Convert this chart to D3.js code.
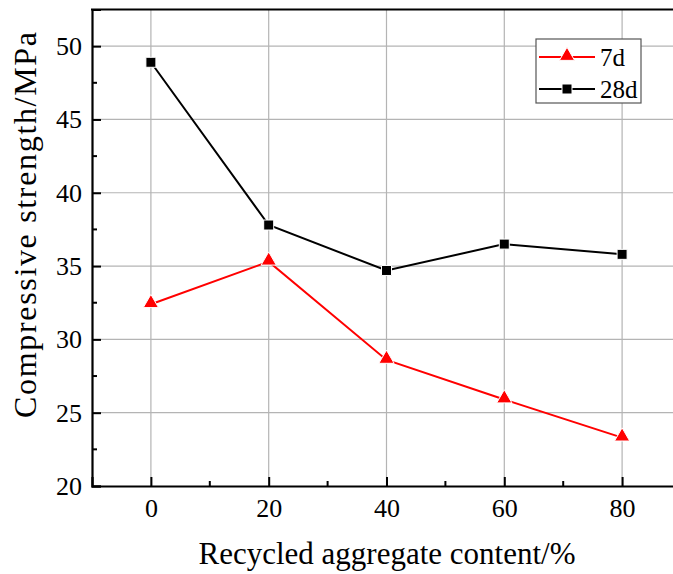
<!DOCTYPE html>
<html>
<head>
<meta charset="utf-8">
<script src="https://cdn.jsdelivr.net/npm/d3@7"></script>
<style>
  html, body { margin: 0; padding: 0; background: #fff; }
  svg { display: block; }
  text { font-family: "Liberation Serif", "Times New Roman", serif; }
</style>
</head>
<body>
<svg id="chart" width="673" height="574"></svg>
<script>
const categories = [0, 20, 40, 60, 80];
const series7d = [32.4, 35.3, 28.6, 25.9, 23.3];
const series28d = [48.9, 37.8, 34.7, 36.5, 35.8];
const yTicks = [20, 25, 30, 35, 40, 45, 50];
const xTicks = [0, 20, 40, 60, 80];
const seriesNames = ["7d", "28d"];

const FONT = '"Liberation Serif", "Times New Roman", serif';
const svg = d3.select("#chart");
const pLeft = 92, pRight = 681, pTop = 9.5, pBottom = 486;

const x = d3.scaleLinear().domain([-10, 90]).range([pLeft, pRight]);
const y = d3.scaleLinear().domain([20, 52.5]).range([pBottom, pTop]);

svg.append("defs").append("clipPath").attr("id", "clip")
  .append("rect").attr("x", pLeft).attr("y", pTop).attr("width", pRight - pLeft).attr("height", pBottom - pTop);

// grid
const grid = svg.append("g").attr("clip-path", "url(#clip)");
grid.selectAll(".hg").data(yTicks.filter(d => d > 20)).enter().append("line")
  .attr("x1", pLeft).attr("x2", pRight).attr("y1", d => y(d)).attr("y2", d => y(d))
  .attr("stroke", "#b4b4b4").attr("stroke-width", 1.2);
grid.selectAll(".vg").data(xTicks).enter().append("line")
  .attr("y1", pTop).attr("y2", pBottom).attr("x1", d => x(d)).attr("x2", d => x(d))
  .attr("stroke", "#b4b4b4").attr("stroke-width", 1.2);

// axes (inward ticks)
const yMinor = d3.range(22.5, 52.5, 5);
const xMinor = [10, 30, 50, 70];
const yAxis = d3.axisLeft(y).tickValues(yTicks).tickSize(-9).tickPadding(10).tickFormat(d3.format("d"));
const gy = svg.append("g").attr("transform", `translate(${pLeft},0)`).call(yAxis);
gy.selectAll("line").attr("stroke-width", 2);
gy.append("g").selectAll("line").data(yMinor).enter().append("line")
  .attr("x1", 0).attr("x2", 5).attr("y1", d => y(d)).attr("y2", d => y(d))
  .attr("stroke", "#000").attr("stroke-width", 2);

const xAxis = d3.axisBottom(x).tickValues(xTicks).tickSize(-9).tickPadding(13).tickFormat(d3.format("d"));
const gx = svg.append("g").attr("transform", `translate(0,${pBottom})`).call(xAxis);
gx.selectAll("line").attr("stroke-width", 2);
gx.append("g").selectAll("line").data(xMinor).enter().append("line")
  .attr("y1", 0).attr("y2", -5).attr("x1", d => x(d)).attr("x2", d => x(d))
  .attr("stroke", "#000").attr("stroke-width", 2);

[gx, gy].forEach(g => {
  g.attr("font-family", FONT);
  g.select(".domain").attr("stroke-width", 2.2);
  g.selectAll("text").attr("font-size", 26).attr("fill", "#000").style("font-family", FONT);
});
// top border
svg.append("line").attr("x1", pLeft - 1).attr("x2", pRight).attr("y1", pTop).attr("y2", pTop)
  .attr("stroke", "#000").attr("stroke-width", 2.2);

// lines
const line = vals => d3.line().x((d, i) => x(categories[i])).y(d => y(d))(vals);
svg.append("path").attr("d", line(series28d)).attr("fill", "none").attr("stroke", "#000").attr("stroke-width", 2);
svg.append("path").attr("d", line(series7d)).attr("fill", "none").attr("stroke", "#ff0000").attr("stroke-width", 2);

const tri = d3.symbol().type(d3.symbolTriangle).size(100);
const sq = d3.symbol().type(d3.symbolSquare).size(100);

svg.selectAll(".sq").data(series28d).enter().append("path")
  .attr("d", sq).attr("transform", (d, i) => `translate(${x(categories[i])},${y(d)})`)
  .attr("fill", "#000").attr("stroke", "#fff").attr("stroke-width", 1);
svg.selectAll(".tri").data(series7d).enter().append("path")
  .attr("d", tri).attr("transform", (d, i) => `translate(${x(categories[i])},${y(d) - 1})`)
  .attr("fill", "#ff0000").attr("stroke", "#fff").attr("stroke-width", 1);

// legend
const lg = svg.append("g");
lg.append("rect").attr("x", 536).attr("y", 39).attr("width", 105).attr("height", 64)
  .attr("fill", "#fff").attr("stroke", "#555").attr("stroke-width", 1.2);
const legendColors = ["#ff0000", "#000"];
const legendSym = [tri, sq];
seriesNames.forEach((name, i) => {
  const cy = 57 + i * 32;
  lg.append("line").attr("x1", 539).attr("x2", 595).attr("y1", cy).attr("y2", cy)
    .attr("stroke", legendColors[i]).attr("stroke-width", 2);
  lg.append("path").attr("d", legendSym[i]).attr("transform", `translate(567,${cy - (i === 0 ? 1 : 0)})`)
    .attr("fill", legendColors[i]).attr("stroke", "#fff").attr("stroke-width", 1);
  lg.append("text").attr("x", 600).attr("y", cy + 9).attr("font-size", 25).attr("fill", "#000")
    .style("font-family", FONT).text(name);
});

// axis titles
svg.append("text").attr("x", 387).attr("y", 564).attr("text-anchor", "middle")
  .attr("font-size", 31).attr("fill", "#000").style("font-family", FONT).text("Recycled aggregate content/%");
svg.append("text").attr("transform", `translate(36,${225}) rotate(-90)`).attr("text-anchor", "middle")
  .attr("font-size", 32).attr("textLength", 386).attr("lengthAdjust", "spacing")
  .attr("fill", "#000").style("font-family", FONT).text("Compressive strength/MPa");
</script>
</body>
</html>
